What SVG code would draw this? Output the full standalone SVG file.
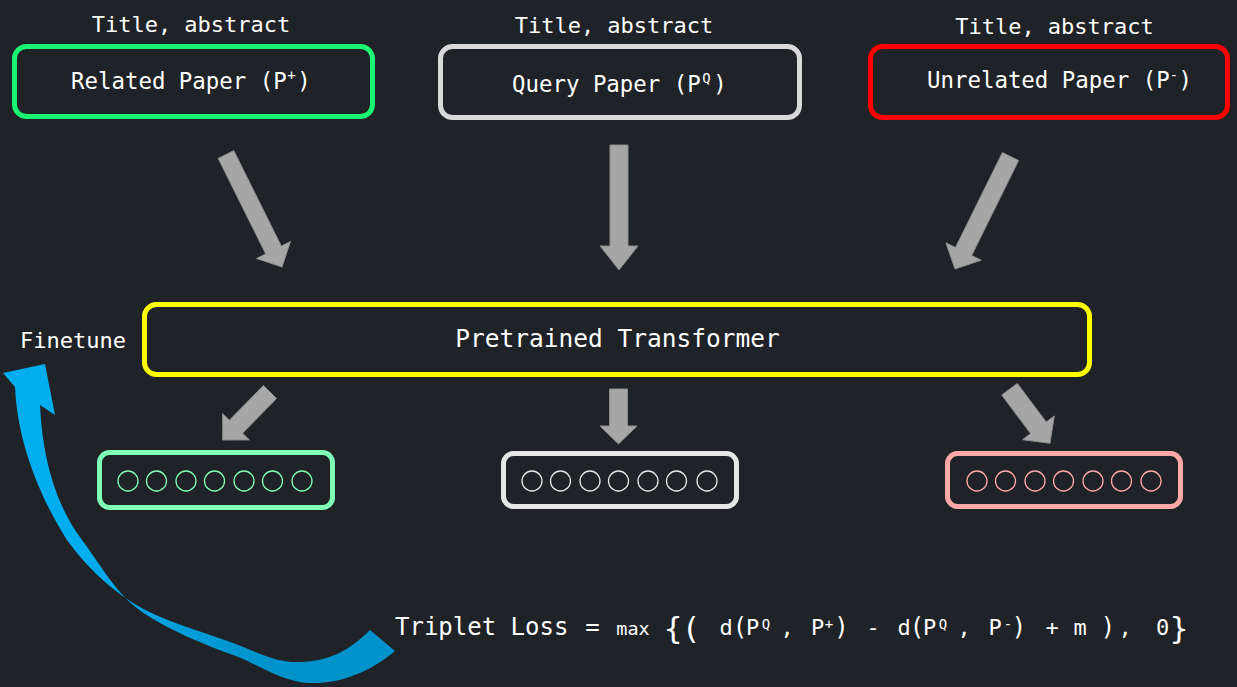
<svg xmlns="http://www.w3.org/2000/svg" width="1237" height="687" viewBox="0 0 1237 687">
<defs>
<linearGradient id="blueGrad" gradientUnits="userSpaceOnUse" x1="90" y1="540" x2="260" y2="670">
<stop offset="0" stop-color="#00aeef"/>
<stop offset="1" stop-color="#0092cb"/>
</linearGradient>
</defs>
<style>
text{font-family:"DejaVu Sans Mono","Liberation Mono",monospace;fill:#ffffff}
.lbl{font-size:22px;text-anchor:middle}
.name{font-size:22.4px}
.sup{font-size:14px}
.box{fill:none;stroke-width:5}
.arrow{fill:#a6a6a6;stroke:#8c8c8c;stroke-width:1;stroke-linejoin:miter}
.dot{fill:none;stroke-width:1.3}
.f{text-anchor:middle}
</style>
<rect x="0" y="0" width="1237" height="687" fill="#1f2226"/>

<g id="related-paper">
<text class="lbl" x="191" y="32">Title, abstract</text>
<rect class="box" x="14.5" y="46.5" width="358" height="70" rx="12" stroke="#19f572"/>
<text class="name" x="71" y="89">Related Paper (P<tspan class="sup" dx="0.5" dy="-9">+</tspan><tspan dx="1.5" dy="9">)</tspan></text>
</g>

<g id="query-paper">
<text class="lbl" x="614" y="33">Title, abstract</text>
<rect class="box" x="440.5" y="46.5" width="359" height="71" rx="12" stroke="#d9d9d9"/>
<text class="name" x="512" y="92">Query Paper (P<tspan class="sup" dx="1.5" dy="-9">Q</tspan><tspan dx="2.5" dy="9">)</tspan></text>
</g>

<g id="unrelated-paper">
<text class="lbl" x="1054.5" y="34">Title, abstract</text>
<rect class="box" x="870.5" y="46.5" width="357" height="71" rx="12" stroke="#ff0000"/>
<text class="name" x="927" y="88">Unrelated Paper (P<tspan class="sup" dx="0" dy="-8">-</tspan><tspan dx="0.5" dy="8">)</tspan></text>
</g>

<g id="transformer">
<rect class="box" x="144.5" y="304.5" width="945" height="70" rx="12" stroke="#ffff00"/>
<text x="617.5" y="347" style="font-size:24.5px;text-anchor:middle">Pretrained Transformer</text>
</g>

<g id="finetune">
<text class="lbl" x="73" y="348">Finetune</text>
<path d="M45,364 L55,415 L40,405 C42,450 52,500 82,540 C97,560 113,588 133,605 C157,625 200,643 233,655 C260,665 282,682 310,683 C340,684 370,672 395,651 L370,630 C350,650 330,661 300,662 C275,663 255,651 233,643 C195,629 160,620 133,603 C108,587 85,565 67,540 C45,505 18,450 15,387 L3,373 Z" fill="url(#blueGrad)"/>
</g>

<g id="emb-related">
<rect class="box" x="99.5" y="452.5" width="233" height="55" rx="10" stroke="#80ffb5"/>
<g class="dot" stroke="#80ffb5">
<circle cx="128" cy="481" r="10"/><circle cx="156.5" cy="481" r="10"/><circle cx="186" cy="481" r="10"/><circle cx="214.5" cy="481" r="10"/><circle cx="244" cy="481" r="10"/><circle cx="272.5" cy="481" r="10"/><circle cx="302" cy="481" r="10"/>
</g>
</g>

<g id="emb-query">
<rect class="box" x="503.5" y="453.5" width="233" height="53" rx="10" stroke="#e6e6e6"/>
<g class="dot" stroke="#e6e6e6">
<circle cx="532" cy="481" r="10"/><circle cx="560.5" cy="481" r="10"/><circle cx="590" cy="481" r="10"/><circle cx="618.5" cy="481" r="10"/><circle cx="648" cy="481" r="10"/><circle cx="676.5" cy="481" r="10"/><circle cx="707" cy="481" r="10"/>
</g>
</g>

<g id="emb-unrelated">
<rect class="box" x="947.5" y="453.5" width="233" height="53" rx="10" stroke="#ffa8a8"/>
<g class="dot" stroke="#ffa8a8">
<circle cx="977" cy="481" r="10"/><circle cx="1005.5" cy="481" r="10"/><circle cx="1035" cy="481" r="10"/><circle cx="1063.5" cy="481" r="10"/><circle cx="1093" cy="481" r="10"/><circle cx="1121.5" cy="481" r="10"/><circle cx="1151" cy="481" r="10"/>
</g>
</g>

<g id="connectors">
<polygon class="arrow" points="233.8,150.6 281.3,246.1 290.5,241.5 282,267 256.5,258.5 265.7,253.9 218.2,158.4"/>
<polygon class="arrow" points="610,145 628,145 628,246 638,246 619,270 600,246 610,246"/>
<polygon class="arrow" points="1002.4,152.5 955.5,247.5 945.9,242.8 955,269 981.3,260.2 971.7,255.5 1018.6,160.5"/>
<polygon class="arrow" points="263.4,385.5 229.4,420.2 222.6,413.5 222.7,440 249.4,439.9 242.6,433.2 276.6,398.5"/>
<polygon class="arrow" points="609.5,389 627.5,389 627.5,426 637,426 618.5,444 600,426 609.5,426"/>
<polygon class="arrow" points="1001.7,395 1030.6,433.6 1022.5,439.7 1050,443.3 1054.3,415.9 1046.2,422 1017.3,383.4"/>
</g>

<g id="triplet-loss">
<text y="635" style="font-size:24px"><tspan x="395">Triplet Loss</tspan><tspan class="f" x="592.5">=</tspan><tspan class="f" x="633" style="font-size:18.5px">max</tspan><tspan class="f" x="673" y="639" style="font-size:31px">{</tspan><tspan class="f" x="691" y="639" style="font-size:31px">(</tspan><tspan class="f" x="726" y="635" style="font-size:22px">d</tspan><tspan class="f" x="740" style="font-size:24px">(</tspan><tspan class="f" x="752.5" style="font-size:22px">P</tspan><tspan class="f" x="766" y="629" style="font-size:14px">Q</tspan><tspan class="f" x="787" y="635" style="font-size:22px">,</tspan><tspan class="f" x="817.5" style="font-size:22px">P</tspan><tspan class="f" x="829" y="629" style="font-size:14px">+</tspan><tspan class="f" x="841.5" y="635" style="font-size:24px">)</tspan><tspan class="f" x="873" style="font-size:22px">-</tspan><tspan class="f" x="904" style="font-size:22px">d</tspan><tspan class="f" x="917" style="font-size:24px">(</tspan><tspan class="f" x="929.5" style="font-size:22px">P</tspan><tspan class="f" x="943" y="629" style="font-size:14px">Q</tspan><tspan class="f" x="964" y="635" style="font-size:22px">,</tspan><tspan class="f" x="995" style="font-size:22px">P</tspan><tspan class="f" x="1008" y="629" style="font-size:14px">-</tspan><tspan class="f" x="1019" y="635" style="font-size:24px">)</tspan><tspan class="f" x="1052" style="font-size:22px">+</tspan><tspan class="f" x="1080" style="font-size:22px">m</tspan><tspan class="f" x="1108" style="font-size:24px">)</tspan><tspan class="f" x="1125" style="font-size:22px">,</tspan><tspan class="f" x="1162.5" style="font-size:22px">0</tspan><tspan class="f" x="1179" y="639" style="font-size:31px">}</tspan></text>
</g>
</svg>
